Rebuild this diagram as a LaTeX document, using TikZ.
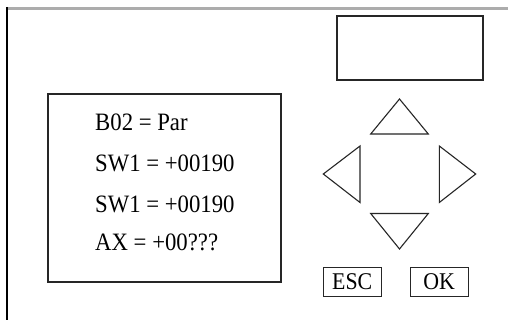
\documentclass[tikz,border=0pt]{standalone}
\usepackage{graphicx}
\usepackage{fontspec}
\setmainfont{Liberation Serif}
\newcommand{\cond}[1]{\scalebox{0.91}[1]{#1}}
\begin{document}
\begin{tikzpicture}[x=1pt,y=-1pt,
  frame/.style={draw=black!85,line width=1.1pt},
  tri/.style={draw=black!85,line width=1.1pt,line join=miter},
  lcd/.style={anchor=base west,inner sep=0pt,font=\fontsize{25}{28}\selectfont},
  key/.style={draw=black!85,line width=1.1pt,minimum width=58pt,minimum height=29pt,inner sep=0pt,font=\fontsize{24}{26}\selectfont}]
\useasboundingbox (0,0) rectangle (508,320);
\fill[white] (0,0) rectangle (508,320);
% outer frame lines
\draw[gray!65,line width=3pt] (6,8.5) -- (508,8.5);
\draw[black,line width=2pt] (7,7) -- (7,320);
% top display
\node[frame,minimum width=146pt,minimum height=64pt,inner sep=0pt] (disp) at (410,48) {};
% text screen
\node[frame,minimum width=233pt,minimum height=188pt,inner sep=0pt] (screen) at (164.5,188) {};
\node[lcd] (l1) at (95,131) {\cond{B02 = Par}};
\node[lcd] (l2) at (95,172) {\cond{SW1 = +00190}};
\node[lcd] (l3) at (95,212.5) {\cond{SW1 = +00190}};
\node[lcd] (l4) at (95,251) {\cond{AX = +00???}};
% arrow keys
\draw[tri] (399.5,99) -- (428.3,134) -- (370.7,134) -- cycle;
\draw[tri] (399.5,249) -- (428.3,213.5) -- (370.7,213.5) -- cycle;
\draw[tri] (323.3,174) -- (360,146) -- (360,202.5) -- cycle;
\draw[tri] (475.7,174) -- (439.3,146) -- (439.3,202.5) -- cycle;
% buttons
\node[key] (esc) at (352.2,281.7) {\cond{ESC}};
\node[key] (ok) at (439.2,281.7) {\cond{OK}};
\end{tikzpicture}
\end{document}
